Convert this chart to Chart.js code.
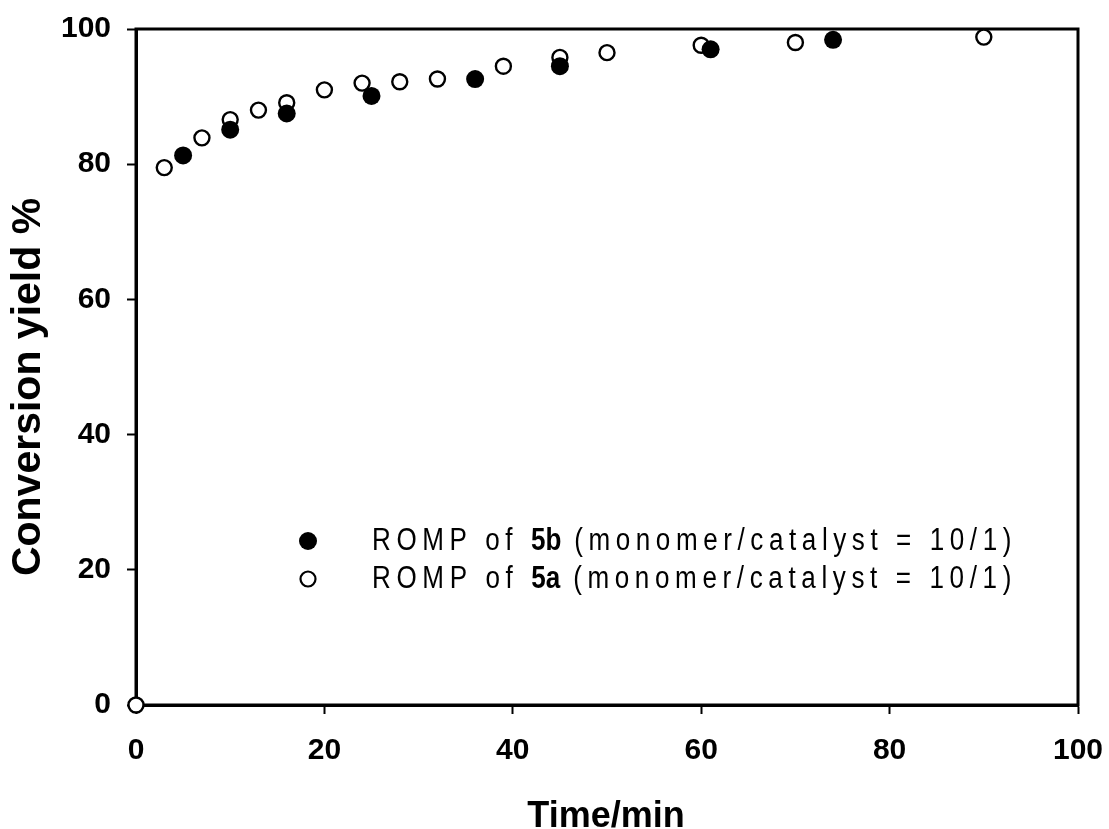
<!DOCTYPE html>
<html>
<head>
<meta charset="utf-8">
<script src="https://cdn.jsdelivr.net/npm/chart.js@4.4.1/dist/chart.umd.min.js"></script>
<style>
  html, body { margin: 0; padding: 0; background: #fff; }
  #yieldChart { display: block; }
</style>
</head>
<body>
<canvas id="yieldChart" width="1109" height="829"></canvas>
<script>
// ROMP of 5b (filled circles)
const time5b  = [5, 10, 16, 25, 36, 45, 61, 74];
const yield5b = [81.3, 85.1, 87.5, 90.1, 92.6, 94.5, 97.0, 98.4];

// ROMP of 5a (open circles)
const time5a  = [0, 3, 7, 10, 13, 16, 20, 24, 28, 32, 39, 45, 50, 60, 70, 90];
const yield5a = [0, 79.5, 83.9, 86.6, 88.0, 89.1, 91.0, 92.0, 92.2, 92.6, 94.5, 95.8, 96.5, 97.6, 98.0, 98.8];

const xTicks = [0, 20, 40, 60, 80, 100];
const yTicks = [0, 20, 40, 60, 80, 100];

const legendLabels = [
  ['ROMP of ', '5b', ' (monomer/catalyst = 10/1)'],
  ['ROMP of ', '5a', ' (monomer/catalyst = 10/1)']
];

const FONT = "'Liberation Sans', Arial, Helvetica, sans-serif";

function toPoints(xs, ys) {
  return xs.map(function (x, i) { return { x: x, y: ys[i] }; });
}

// box round the plot, drawn under the points
const framePlugin = {
  id: 'frame',
  beforeDatasetsDraw(chart) {
    const a = chart.chartArea;
    const ctx = chart.ctx;
    ctx.save();
    ctx.strokeStyle = '#000';
    ctx.lineWidth = 3;
    ctx.strokeRect(a.left, a.top, a.right - a.left, a.bottom - a.top);
    ctx.restore();
  }
};

// axis titles and the legend inside the plot
const textPlugin = {
  id: 'texts',
  afterDraw(chart) {
    const ctx = chart.ctx;
    ctx.save();
    ctx.fillStyle = '#000';

    // y title
    ctx.save();
    ctx.translate(29, 387);
    ctx.rotate(-Math.PI / 2);
    ctx.font = 'bold 41px ' + FONT;
    ctx.textAlign = 'center';
    ctx.textBaseline = 'middle';
    ctx.fillText('Conversion yield %', 0, 0);
    ctx.restore();

    // x title (sits right on the bottom edge, as in the source)
    ctx.font = 'bold 36px ' + FONT;
    ctx.textAlign = 'center';
    ctx.textBaseline = 'alphabetic';
    ctx.fillText('Time/min', 606, 827);

    // legend: narrow letters, spaced out to the source width
    const rows = [541, 579];
    const x0 = 372, targetW = 645, squeeze = 0.84;
    ctx.textAlign = 'left';
    ctx.textBaseline = 'middle';
    legendLabels.forEach(function (parts, i) {
      const y = rows[i];
      ctx.beginPath();
      if (i === 0) {
        ctx.arc(308, y, 9, 0, Math.PI * 2);
        ctx.fill();
      } else {
        ctx.arc(308, y, 7.5, 0, Math.PI * 2);
        ctx.lineWidth = 2.2;
        ctx.strokeStyle = '#000';
        ctx.stroke();
      }
      ctx.save();
      ctx.translate(x0, y);
      ctx.scale(squeeze, 1);
      ctx.letterSpacing = '0px';
      ctx.font = '31px ' + FONT;
      let w = ctx.measureText(parts[0]).width + ctx.measureText(parts[2]).width;
      ctx.font = 'bold 31px ' + FONT;
      w += ctx.measureText(parts[1]).width;
      const n = parts[0].length + parts[2].length;
      const sp = Math.max(0, (targetW / squeeze - w) / n);
      let x = 0;
      ctx.font = '31px ' + FONT;
      ctx.letterSpacing = sp + 'px';
      ctx.fillText(parts[0], x, 0);
      x += ctx.measureText(parts[0]).width;
      ctx.font = 'bold 31px ' + FONT;
      ctx.letterSpacing = '0px';
      ctx.fillText(parts[1], x, 0);
      x += ctx.measureText(parts[1]).width;
      ctx.font = '31px ' + FONT;
      ctx.letterSpacing = sp + 'px';
      ctx.fillText(parts[2], x, 0);
      ctx.restore();
    });
    ctx.restore();
  }
};

function axisOptions(ticks, fit, pad) {
  return {
    type: 'linear',
    min: 0,
    max: 100,
    afterBuildTicks: function (scale) {
      scale.ticks = ticks.map(function (v) { return { value: v }; });
    },
    afterFit: fit,
    ticks: {
      color: '#000',
      font: { family: FONT, size: 30, weight: 'bold' },
      padding: pad
    },
    grid: {
      drawOnChartArea: false,
      drawTicks: true,
      tickLength: 9,
      tickWidth: 2,
      tickColor: '#000'
    },
    border: { display: true, color: '#000', width: 3 },
    title: { display: false }
  };
}

function renderChart() {
  const ctx = document.querySelector('#yieldChart').getContext('2d');
  const xAxis = axisOptions(xTicks, function (s) {
    s.height = 124;
    s.paddingLeft = 0;
    s.paddingRight = 0;
  }, 19);
  const yAxis = axisOptions(yTicks, function (s) {
    s.width = 136;
    s.paddingTop = 0;
    s.paddingBottom = 0;
  }, 16);

  new Chart(ctx, {
    type: 'scatter',
    data: {
      datasets: [{
        label: 'ROMP of 5b (monomer/catalyst = 10/1)',
        data: toPoints(time5b, yield5b),
        pointStyle: 'circle',
        pointRadius: 9,
        pointBackgroundColor: '#000',
        pointBorderColor: '#000',
        pointBorderWidth: 0,
        clip: false
      }, {
        label: 'ROMP of 5a (monomer/catalyst = 10/1)',
        data: toPoints(time5a, yield5a),
        pointStyle: 'circle',
        pointRadius: 7.5,
        pointBackgroundColor: '#fff',
        pointBorderColor: '#000',
        pointBorderWidth: 2.4,
        clip: false
      }]
    },
    options: {
      responsive: false,
      animation: false,
      devicePixelRatio: 1,
      layout: { padding: { left: 0, top: 29, right: 31, bottom: 0 } },
      scales: { x: xAxis, y: yAxis },
      plugins: {
        legend: { display: false },
        tooltip: { enabled: false }
      }
    },
    plugins: [framePlugin, textPlugin]
  });
}

renderChart();
</script>
</body>
</html>
